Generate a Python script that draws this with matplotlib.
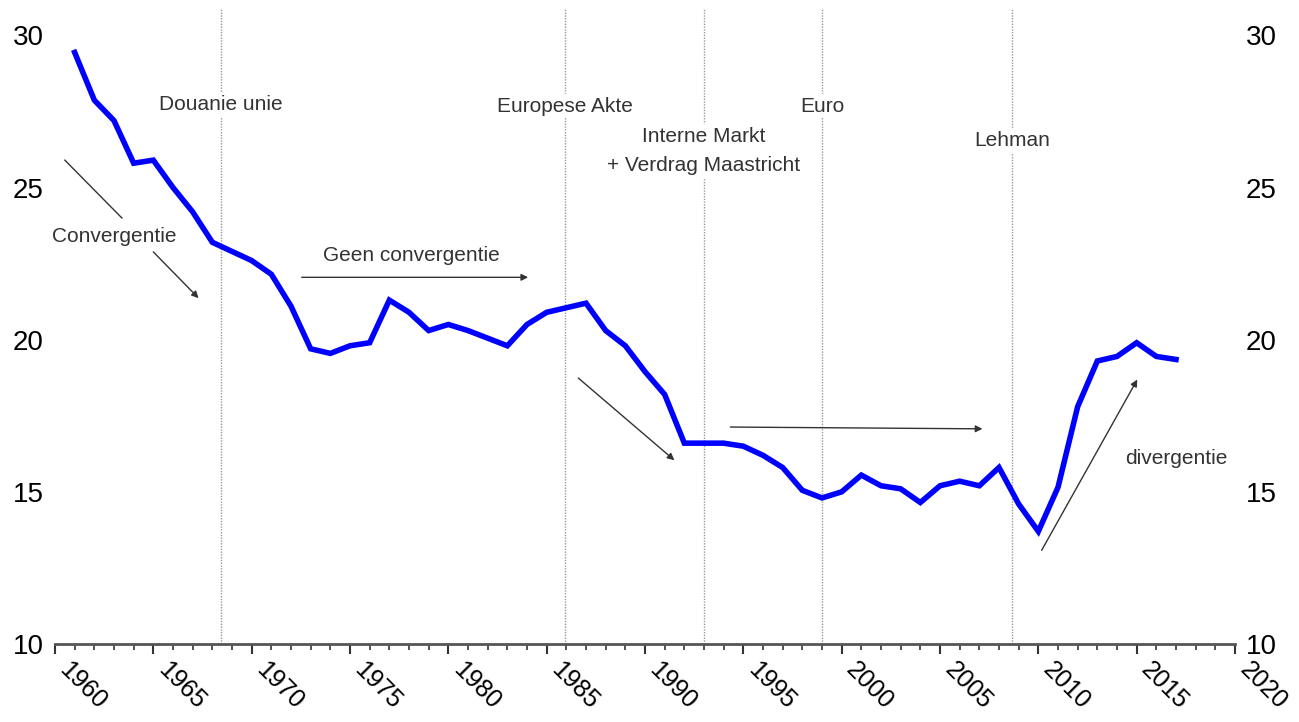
import matplotlib.pyplot as plt
import numpy as np

plt.rcParams['font.family'] = ['Liberation Sans', 'DejaVu Sans']

years = np.arange(1961, 2018)
values = [29.44, 27.87, 27.2, 25.8, 25.9, 25.0, 24.2, 23.2, 22.9, 22.6,
          22.15, 21.1, 19.7, 19.55, 19.8, 19.9, 21.3, 20.9, 20.3, 20.5,
          20.3, 20.05, 19.8, 20.5, 20.9, 21.05, 21.2, 20.3, 19.8, 18.95,
          18.2, 16.6, 16.6, 16.6, 16.5, 16.2, 15.8, 15.05, 14.8, 15.0,
          15.55, 15.2, 15.1, 14.65, 15.2, 15.35, 15.2, 15.8, 14.6, 13.7,
          15.15, 17.8, 19.3, 19.45, 19.9, 19.45, 19.35]

events = ['Douanie unie', 'Europese Akte', 'Interne Markt\n+ Verdrag Maastricht', 'Euro', 'Lehman']
event_years = [1968.45, 1985.95, 1993.0, 1999.0, 2008.65]
event_label_y = [27.73, 27.67, 26.2, 27.67, 26.55]

fig = plt.figure(figsize=(12.99, 7.22), dpi=100)
ax = fig.add_axes([55 / 1299, 1 - 644 / 722, 1180 / 1299, 636 / 722])

for x, lab, ly in zip(event_years, events, event_label_y):
    ax.axvline(x, color='#9a9a9a', linestyle=(0, (1, 1)), linewidth=1.0, zorder=1)
    ax.text(x, ly, lab, ha='center', va='center', fontsize=15, color='#333333',
            linespacing=1.65, zorder=2,
            bbox=dict(facecolor='white', edgecolor='none', pad=2))

ax.plot(years, values, color='#0000ff', linewidth=4.0, solid_joinstyle='miter', zorder=3)

arrow = dict(arrowstyle='-|>', color='#333333', lw=1.0, mutation_scale=10)
# convergentie
ax.plot([1960.5, 1963.4], [25.9, 24.0], color='#333333', lw=1.0)
ax.text(1963.0, 23.4, 'Convergentie', ha='center', va='center', fontsize=15, color='#333333')
ax.annotate('', xy=(1967.4, 21.3), xytext=(1964.9, 22.95), arrowprops=arrow)
# geen convergentie
ax.annotate('', xy=(1984.2, 22.05), xytext=(1972.4, 22.05), arrowprops=arrow)
ax.text(1978.1, 22.77, 'Geen convergentie', ha='center', va='center', fontsize=15, color='#333333')
# 1986-1992
ax.annotate('', xy=(1991.6, 15.98), xytext=(1986.5, 18.8), arrowprops=arrow)
# 1994-2007
ax.annotate('', xy=(2007.3, 17.07), xytext=(1994.2, 17.13), arrowprops=arrow)
# divergentie
ax.annotate('', xy=(2015.1, 18.77), xytext=(2010.1, 13.0), arrowprops=arrow)
ax.text(2017.0, 16.08, 'divergentie', ha='center', va='center', fontsize=15, color='#333333')

ax.set_xlim(1960, 2020)
ax.set_ylim(10, 30.9)
ax.set_yticks([10, 15, 20, 25, 30])
ax.set_xticks(np.arange(1960, 2021, 5))
ax.set_xticks(np.arange(1960, 2021, 1), minor=True)

for s in ['top', 'left', 'right']:
    ax.spines[s].set_visible(False)
ax.spines['bottom'].set_color('#555555')
ax.spines['bottom'].set_linewidth(2)

ax.tick_params(axis='y', length=0, labelsize=20, pad=8, labelright=True)
ax.tick_params(axis='x', which='major', length=7, width=1.5, color='#333333', labelsize=18, pad=3)
ax.tick_params(axis='x', which='minor', length=4, width=1.2, color='#333333')
for lbl in ax.get_xticklabels():
    lbl.set_rotation(-45)
    lbl.set_ha('left')
    lbl.set_va('top')

fig.savefig('out.png', dpi=100)
